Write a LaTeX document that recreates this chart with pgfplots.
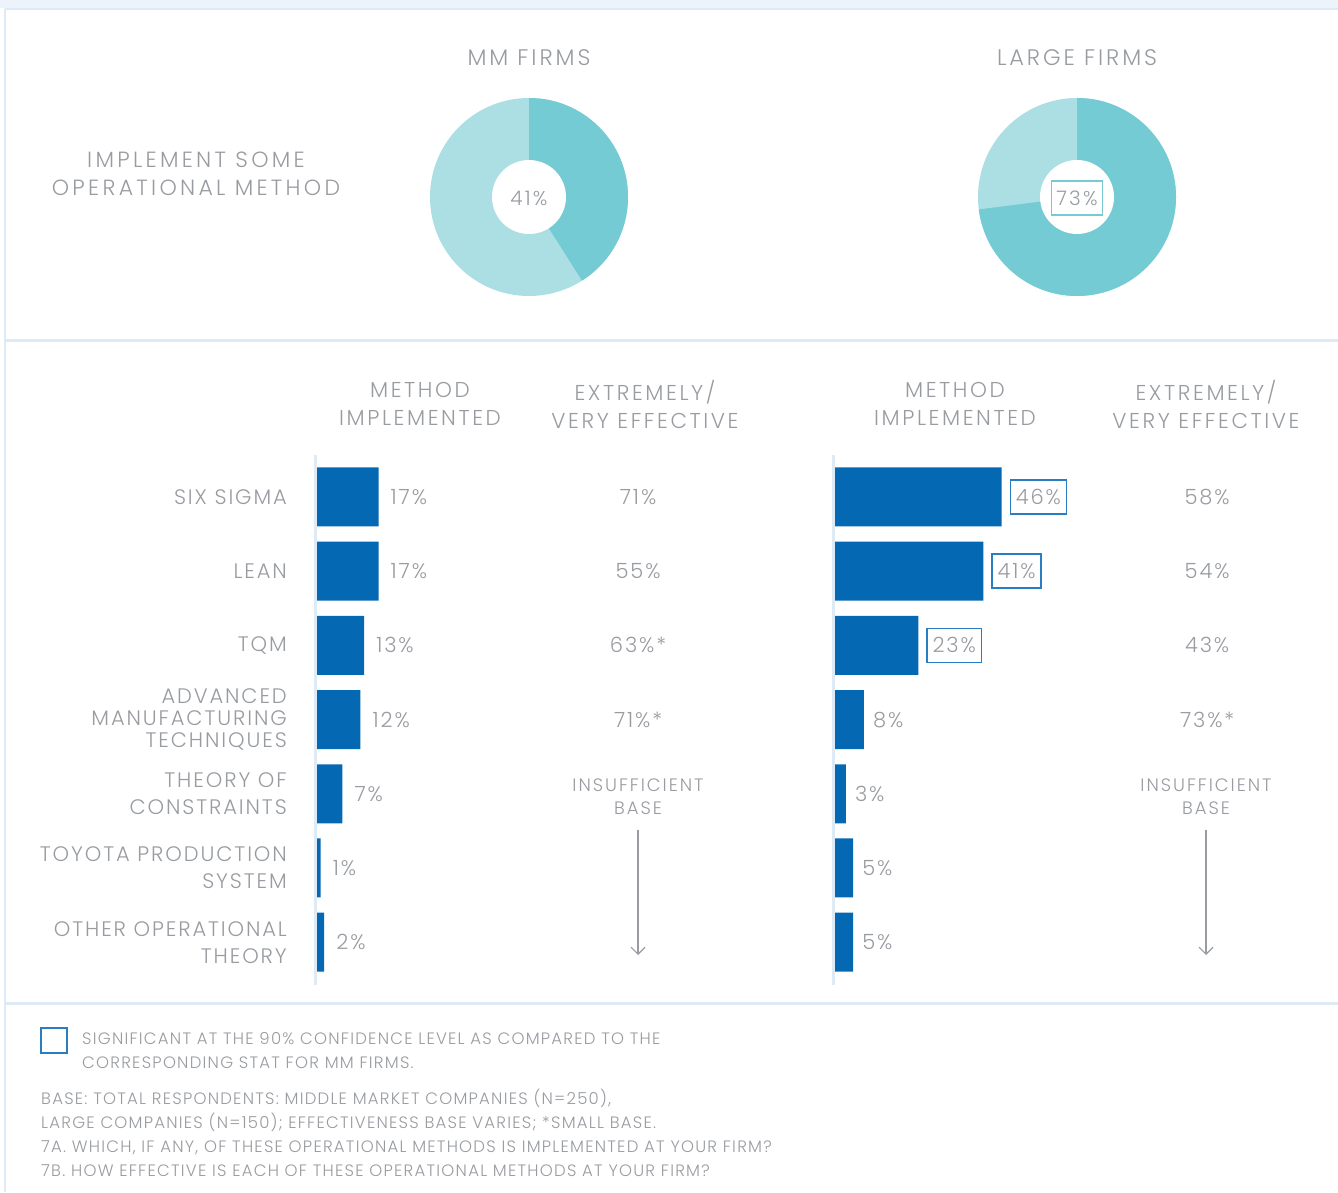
\documentclass[border=0pt]{standalone}
\usepackage{fontspec}
\IfFontExistsTF{Poppins Light}{\setmainfont{Poppins Light}}{\setmainfont{Poppins}}
\usepackage{pgfplots}
\pgfplotsset{compat=1.18}
\usetikzlibrary{arrows.meta}
\definecolor{txt}{RGB}{152,155,160}
\definecolor{barblue}{RGB}{4,104,179}
\definecolor{tealdark}{RGB}{116,203,211}
\definecolor{teallight}{RGB}{171,223,227}
\definecolor{sep}{RGB}{222,234,246}
\definecolor{topband}{RGB}{236,243,251}
\definecolor{boxblue}{RGB}{40,125,195}
\newcommand{\fs}[3]{\fontsize{#1bp}{#2bp}\selectfont\addfontfeatures{LetterSpace=#3}}
\newcommand{\donut}[3]{%
  \fill[teallight] (#1,#2) circle[radius=99];
  \pgfmathsetmacro{\endang}{90-3.6*#3}
  \fill[tealdark] (#1,#2) -- ++(90:99) arc[start angle=90,end angle=\endang,radius=99] -- cycle;
  \fill[white] (#1,#2) circle[radius=37];
}
\begin{document}
\begin{tikzpicture}
\begin{scope}[x=1bp,y=1bp]
\path[use as bounding box] (0,0) rectangle (1338,1192);
\fill[topband] (0,1184) rectangle (1338,1192);
\draw[sep, line width=2bp] (5,1183) -- (1338,1183);
\draw[sep, line width=2bp] (5,0) -- (5,1183);
\draw[sep, line width=3bp] (5,851) -- (1338,851);
\draw[sep, line width=3bp] (5,189) -- (1338,189);
% top section
\node[text=txt, font=\fs{22}{28}{15}, align=center] at (196,1018) {IMPLEMENT SOME\\OPERATIONAL METHOD};
\node[text=txt, font=\fs{22.5}{28}{13}] at (529,1134) {MM FIRMS};
\node[text=txt, font=\fs{22.5}{28}{13}] at (1077,1134) {LARGE FIRMS};
\donut{529}{995}{41}
\donut{1077}{995}{73}
\node[text=txt, font=\fs{20}{24}{11}] at (529,994) {41\%};
\node[text=txt, font=\fs{20}{24}{11}, draw=tealdark, line width=1.2bp, inner xsep=4.5bp, minimum height=34bp] at (1077,994) {73\%};
% headers
\node[text=txt, font=\fs{21.5}{28}{12}, align=center] at (420,788) {METHOD\\IMPLEMENTED};
\node[text=txt, font=\fs{21.5}{28}{12}, align=center] at (645,788) {EXTREMELY/\\VERY EFFECTIVE};
\node[text=txt, font=\fs{21.5}{28}{12}, align=center] at (955,788) {METHOD\\IMPLEMENTED};
\node[text=txt, font=\fs{21.5}{28}{12}, align=center] at (1206,788) {EXTREMELY/\\VERY EFFECTIVE};
% insufficient base
\node[text=txt, font=\fs{18}{23}{11}, align=center] at (638,395) {INSUFFICIENT\\BASE};
\draw[txt, line width=1.2bp, -{Straight Barb[length=7bp, width=14bp]}] (638,362) -- (638,237);
\node[text=txt, font=\fs{18}{23}{11}, align=center] at (1206,395) {INSUFFICIENT\\BASE};
\draw[txt, line width=1.2bp, -{Straight Barb[length=7bp, width=14bp]}] (1206,362) -- (1206,237);
% legend and footnotes
\draw[boxblue, line width=1.5bp] (41,139) rectangle (67,164);
\node[anchor=base west, inner sep=0, text=txt, font=\fs{16.5}{24}{7.5}] at (82,148) {SIGNIFICANT AT THE 90\% CONFIDENCE LEVEL AS COMPARED TO THE};
\node[anchor=base west, inner sep=0, text=txt, font=\fs{16.5}{24}{7.5}] at (82,124) {CORRESPONDING STAT FOR MM FIRMS.};
\node[anchor=base west, inner sep=0, text=txt, font=\fs{16.5}{24}{7.5}] at (41,88) {BASE: TOTAL RESPONDENTS: MIDDLE MARKET COMPANIES (N=250),};
\node[anchor=base west, inner sep=0, text=txt, font=\fs{16.5}{24}{7.5}] at (41,64) {LARGE COMPANIES (N=150); EFFECTIVENESS BASE VARIES; *SMALL BASE.};
\node[anchor=base west, inner sep=0, text=txt, font=\fs{16.5}{24}{7.5}] at (41,40) {7A. WHICH, IF ANY, OF THESE OPERATIONAL METHODS IS IMPLEMENTED AT YOUR FIRM?};
\node[anchor=base west, inner sep=0, text=txt, font=\fs{16.5}{24}{7.5}] at (41,16) {7B. HOW EFFECTIVE IS EACH OF THESE OPERATIONAL METHODS AT YOUR FIRM?};
\end{scope}

% MM firms bars
\begin{axis}[
  at={(317bp,207bp)}, anchor=south west, scale only axis,
  width=181bp, height=530bp,
  xmin=0, xmax=50, ymin=-0.566, ymax=6.577, y dir=reverse,
  axis line style={draw=none}, tick style={draw=none},
  /pgf/number format/assume math mode=true,
  xtick=\empty, ytick={0,...,6},
  yticklabels={SIX SIGMA, LEAN, TQM, {ADVANCED\\[-5bp]MANUFACTURING\\[-5bp]TECHNIQUES}, {THEORY OF\\CONSTRAINTS}, {TOYOTA PRODUCTION\\SYSTEM}, {OTHER OPERATIONAL\\THEORY}},
  yticklabel style={align=right, font=\fs{21}{27}{9}, text=txt, inner sep=0pt, xshift=-30bp},
  clip=false,
]
\draw[sep, line width=2.5bp] ([xshift=-1.3bp]axis description cs:0,0) -- ([xshift=-1.3bp]axis description cs:0,1);
\addplot[xbar, bar width=0.795, bar shift=0pt, fill=barblue, draw=none, point meta=x,
  nodes near coords={\pgfmathprintnumber{\pgfplotspointmeta}\%},
  nodes near coords style={anchor=west, text=txt, font=\fs{21}{25}{9}, inner sep=4bp, xshift=8bp}]
  coordinates {(17,0) (17,1) (13,2) (12,3) (7,4) (1,5) (2,6)};
\addplot[draw=none, mark=none, point meta=explicit symbolic, nodes near coords,
  nodes near coords style={anchor=center, text=txt, font=\fs{21}{25}{9}}]
  table[meta=lab] {
x y lab
88.7 0 71\%
88.7 1 55\%
88.7 2 63\%*
88.7 3 71\%*
};
\end{axis}

% Large firms bars
\begin{axis}[
  at={(835bp,207bp)}, anchor=south west, scale only axis,
  width=181bp, height=530bp,
  xmin=0, xmax=50, ymin=-0.566, ymax=6.577, y dir=reverse,
  axis line style={draw=none}, tick style={draw=none},
  /pgf/number format/assume math mode=true,
  xtick=\empty, ytick=\empty,
  clip=false,
]
\draw[sep, line width=2.5bp] ([xshift=-1.3bp]axis description cs:0,0) -- ([xshift=-1.3bp]axis description cs:0,1);
\addplot[xbar, bar width=0.795, bar shift=0pt, fill=barblue, draw=none, point meta=x,
  nodes near coords={\pgfmathprintnumber{\pgfplotspointmeta}\%},
  nodes near coords style={anchor=west, text=txt, font=\fs{21}{25}{9}, draw=boxblue, line width=1.5bp, inner xsep=5.5bp, minimum height=34bp, xshift=8bp}]
  coordinates {(46,0) (41,1) (23,2)};
\addplot[xbar, bar width=0.795, bar shift=0pt, fill=barblue, draw=none, point meta=x,
  nodes near coords={\pgfmathprintnumber{\pgfplotspointmeta}\%},
  nodes near coords style={anchor=west, text=txt, font=\fs{21}{25}{9}, inner sep=4bp, xshift=5bp}]
  coordinates {(8,3) (3,4) (5,5) (5,6)};
\addplot[draw=none, mark=none, point meta=explicit symbolic, nodes near coords,
  nodes near coords style={anchor=center, text=txt, font=\fs{21}{25}{9}}]
  table[meta=lab] {
x y lab
102.8 0 58\%
102.8 1 54\%
102.8 2 43\%
102.8 3 73\%*
};
\end{axis}
\end{tikzpicture}
\end{document}
